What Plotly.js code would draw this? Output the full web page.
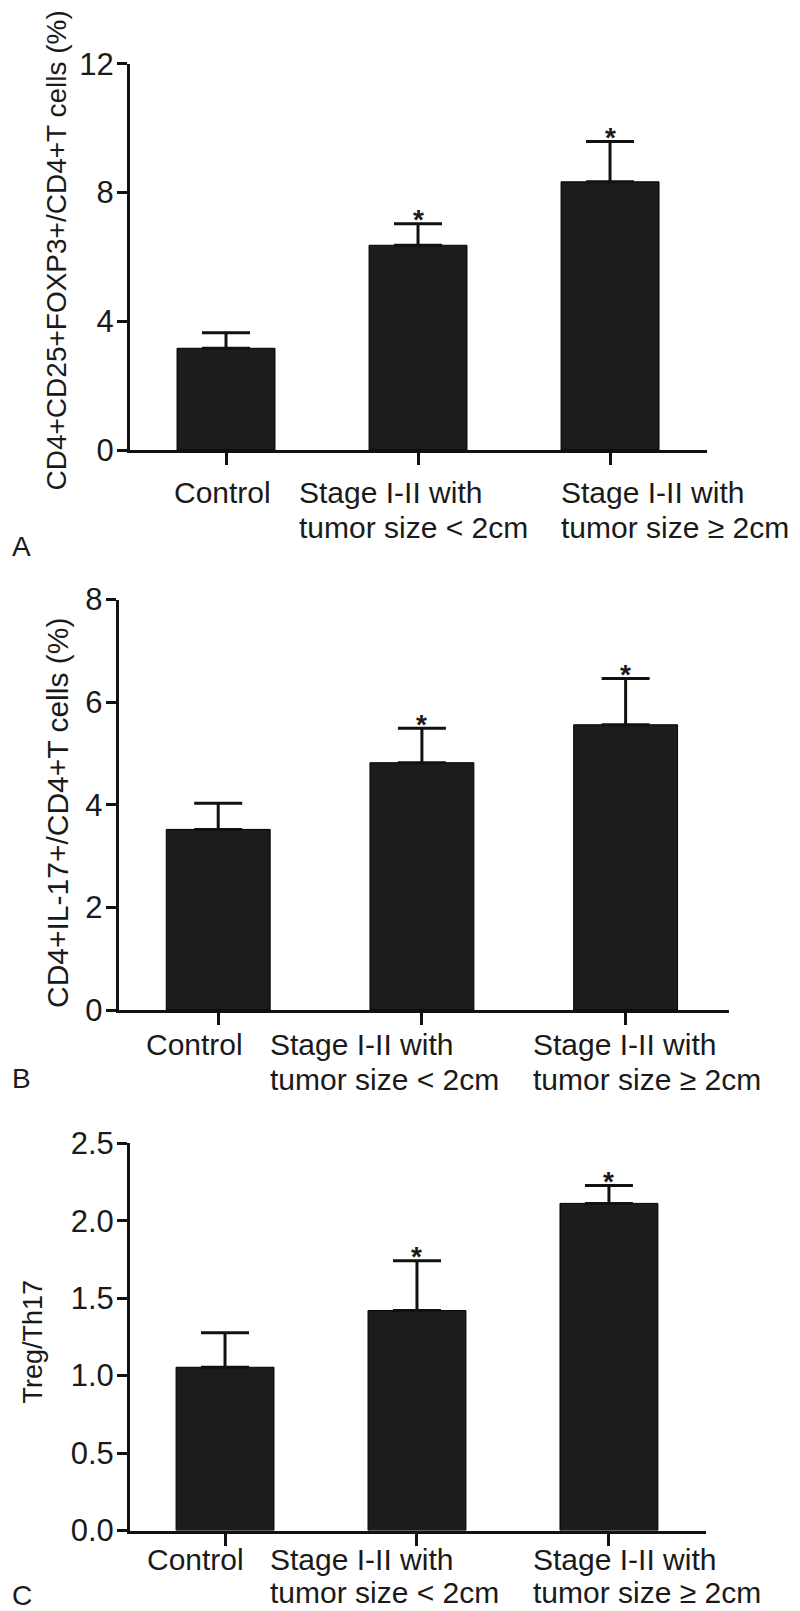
<!DOCTYPE html>
<html>
<head>
<meta charset="utf-8">
<script src="https://cdn.plot.ly/plotly-3.0.1.min.js"></script>
<style>
  body { margin: 0; background: #fff; }
  #grafica { width: 800px; height: 1611px; }
</style>
</head>
<body>
<div id="grafica"></div>
<script>
// grupos y etiquetas del eje x (una lista por linea)
const grupos = ["Control", "Stage <2cm", "Stage >=2cm"];
const etiquetas = [
    ["Control"],
    ["Stage I-II with", "tumor size &lt; 2cm"],
    ["Stage I-II with", "tumor size ≥ 2cm"]
];
const significativo = [false, true, true];

// A: Treg (%)
const tregMedia = [3.16, 6.36, 8.33];
const tregSem = [0.48, 0.67, 1.25];
const tregTicks = [0, 4, 8, 12];

// B: Th17 (%)
const th17Media = [3.52, 4.82, 5.56];
const th17Sem = [0.51, 0.67, 0.90];
const th17Ticks = [0, 2, 4, 6, 8];

// C: Treg/Th17
const ratioMedia = [1.054, 1.42, 2.112];
const ratioSem = [0.222, 0.321, 0.115];
const ratioTicks = [0, 0.5, 1.0, 1.5, 2.0, 2.5];

const W = 800, H = 1611;
const fuente = "Liberation Sans, Arial, sans-serif";
const negro = "#1a1a1a";

// posiciones en pixeles de cada panel
const paneles = [
    { media: tregMedia, sem: tregSem, ticks: tregTicks, fmt: "d", rango: [0, 12],
      titulo: "CD4+CD25+FOXP3+/CD4+T cells (%)", tSize: 28, tX: 56, tY: 250.5,
      letra: "A", lTop: 536.7, caja: [130, 707, 63.7, 450], rangoX: [-0.5, 2.505],
      dx: [-53.8, -121.5, -51.5], base: 53, salto: 35.5 },
    { media: th17Media, sem: th17Sem, ticks: th17Ticks, fmt: "d", rango: [0, 8],
      titulo: "CD4+IL-17+/CD4+T cells (%)", tSize: 30, tX: 57, tY: 813,
      letra: "B", lTop: 1068, caja: [118.8, 728.5, 599.6, 1010], rangoX: [-0.488, 2.505],
      dx: [-73.8, -153.5, -94.9], base: 45, salto: 35.5 },
    // el ultimo renglon queda pegado al borde inferior: algo mas apretado
    { media: ratioMedia, sem: ratioSem, ticks: ratioTicks, fmt: ".1f", rango: [0, 2.5],
      titulo: "Treg/Th17", tSize: 27, tX: 33, tY: 1341.6,
      letra: "C", lTop: 1585, caja: [130, 705.5, 1143.3, 1530.5], rangoX: [-0.495, 2.503],
      dx: [-80.2, -148.5, -78.2], base: 40, salto: 33 }
];

let trazas = [];
let anotaciones = [];
let layout = {
    width: W, height: H,
    margin: { l: 0, r: 0, t: 0, b: 0 },
    paper_bgcolor: "#fff", plot_bgcolor: "#fff",
    showlegend: false,
    font: { family: fuente, color: negro, size: 30 }
};

paneles.forEach((p, i) => {
    const n = i === 0 ? "" : String(i + 1);
    const xa = "x" + n, ya = "y" + n;

    trazas.push({
        type: "bar", x: grupos, y: p.media, xaxis: xa, yaxis: ya, width: 0.51,
        marker: { color: "#1c1c1c", line: { color: "#000", width: 1 } },
        error_y: { type: "data", symmetric: false, array: p.sem, arrayminus: p.sem.map(() => 0),
                   thickness: 3, width: 24, color: "#111" },
        hoverinfo: "skip"
    });

    layout["xaxis" + n] = {
        anchor: ya, domain: [p.caja[0] / W, p.caja[1] / W],
        type: "category", range: p.rangoX,
        showline: true, linewidth: 3, linecolor: "#111",
        ticks: "outside", ticklen: 12, tickwidth: 3, tickcolor: "#111",
        showticklabels: false, showgrid: false, zeroline: false, fixedrange: true
    };
    layout["yaxis" + n] = {
        anchor: xa, domain: [(H - p.caja[3]) / H, (H - p.caja[2]) / H],
        range: p.rango, tickvals: p.ticks, tickformat: p.fmt,
        showline: true, linewidth: 3, linecolor: "#111",
        ticks: "outside", ticklen: 10, tickwidth: 3, tickcolor: "#111",
        tickfont: { size: 31, color: negro, family: fuente }, ticklabelstandoff: -3,
        showgrid: false, zeroline: false, fixedrange: true
    };

    // etiquetas de categoria, alineadas a la izquierda como en la figura
    etiquetas.forEach((lineas, k) => {
        lineas.forEach((txt, j) => {
            anotaciones.push({
                xref: xa, yref: ya, x: grupos[k], y: 0, text: txt, showarrow: false,
                xanchor: "left", yanchor: "top", align: "left",
                xshift: p.dx[k], yshift: -(p.base + j * p.salto - 29.15),
                font: { size: 30, color: negro, family: fuente }
            });
        });
        // asterisco sobre la barra de error
        if (significativo[k]) {
            anotaciones.push({
                xref: xa, yref: ya, x: grupos[k], y: p.media[k] + p.sem[k], text: "*",
                showarrow: false, xanchor: "center", yanchor: "bottom", yshift: -13.5,
                font: { size: 28, color: negro, family: fuente, weight: "bold" }
            });
        }
    });

    // titulo del eje y
    anotaciones.push({
        xref: "paper", yref: "paper", x: p.tX / W, y: (H - p.tY) / H, text: p.titulo,
        textangle: -90, showarrow: false, xanchor: "center", yanchor: "middle",
        font: { size: p.tSize, color: negro, family: fuente }
    });
    // letra del panel, colgada del eje x del panel
    anotaciones.push({
        xref: "paper", yref: ya, x: 10 / W, y: 0, text: p.letra,
        showarrow: false, xanchor: "left", yanchor: "top",
        yshift: -(p.lTop - p.caja[3] - 7.3),
        font: { size: 28, color: negro, family: fuente }
    });
});

layout.annotations = anotaciones;

Plotly.newPlot("grafica", trazas, layout, { displayModeBar: false, staticPlot: true });
</script>
</body>
</html>
